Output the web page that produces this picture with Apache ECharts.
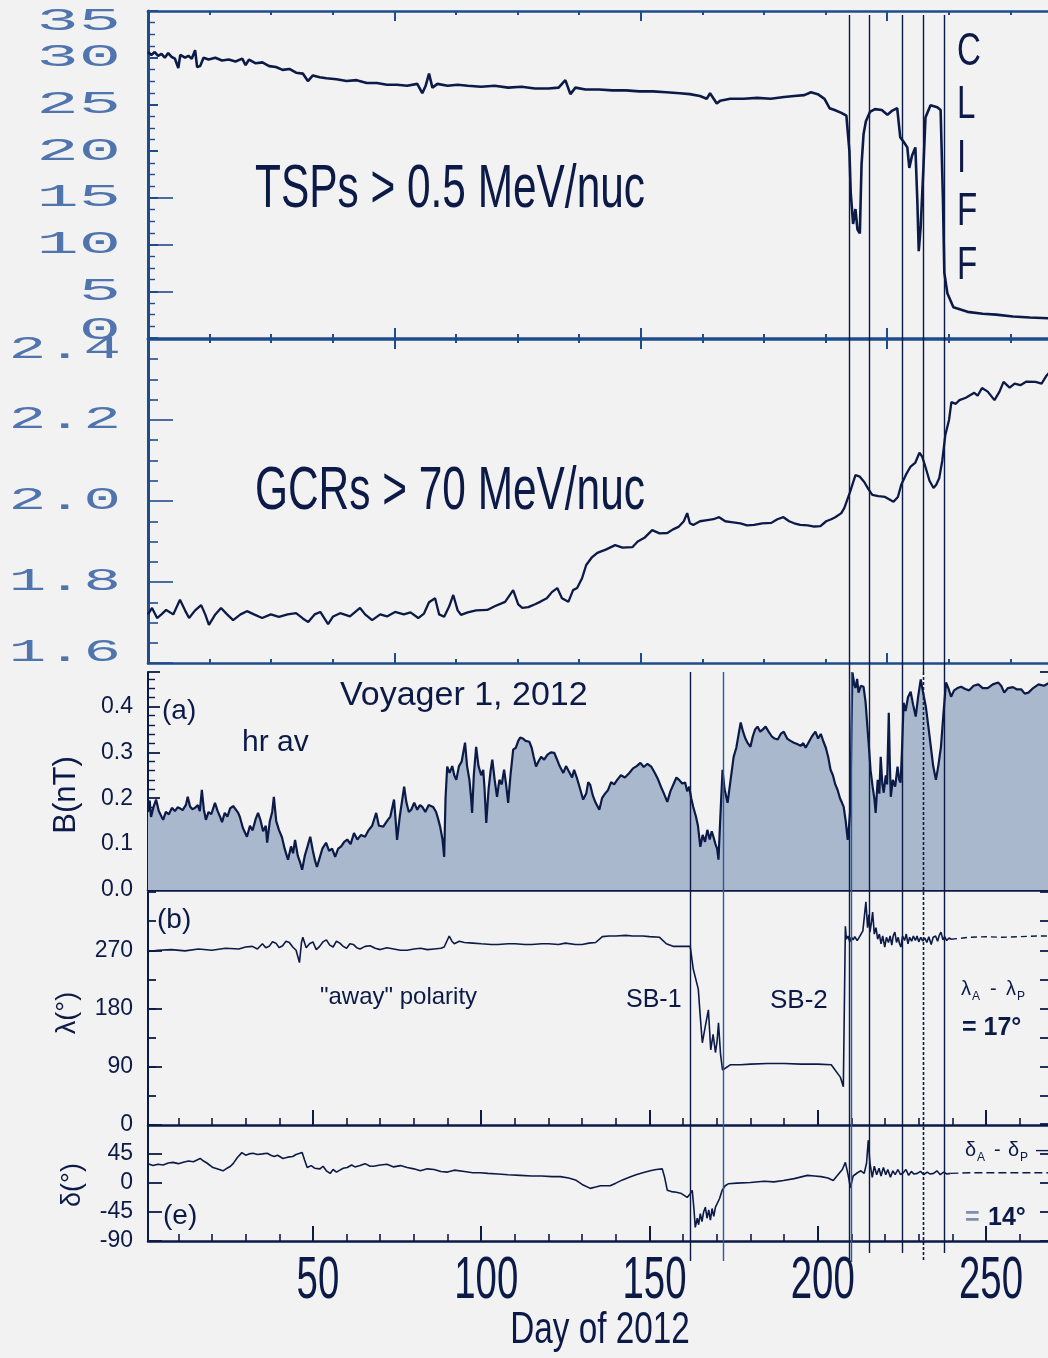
<!DOCTYPE html>
<html>
<head>
<meta charset="utf-8">
<title>Voyager 1, 2012</title>
<script src="https://cdn.jsdelivr.net/npm/echarts@6/dist/echarts.min.js"></script>
<style>
  html, body { margin: 0; padding: 0; background: #f2f2f2; }
  #chart { width: 1048px; height: 1358px; }
</style>
</head>
<body>
<div id="chart"></div>
<script>
// ---------------------------------------------------------------
// Data: [day of 2012, value]
// ---------------------------------------------------------------
const tspData = [
  [1,30.6],[2,30.3],[3,30.6],[4,30.2],[5,30.4],[6,30.0],[7,30.5],[8,30.1],[9,29.9],[10,28.9],
  [10.6,30.3],[12,30.0],[13,30.2],[14,29.9],[15,30.8],[15.6,29.0],[16.5,29.1],[17.5,30.0],[19,29.8],
  [21,30.0],[23,29.7],[25,29.8],[27,29.6],[29,29.9],[30,29.2],[31,29.8],[33,29.4],[35,29.5],[37,29.1],
  [39,29.0],[41,28.7],[43,28.8],[45,28.4],[47,28.3],[48.5,27.5],[50,28.1],[52,27.9],[54,27.8],[57,27.7],
  [60,27.5],[63,27.6],[66,27.3],[69,27.3],[72,27.1],[75,27.1],[78,27.0],[81,27.2],[82.5,26.2],[83.5,27.0],
  [84.5,28.3],[85.5,26.8],[87,27.2],[90,27.0],[93,27.1],[96,27.0],[100,26.9],[104,27.0],[108,26.8],
  [112,26.9],[116,26.7],[120,26.7],[123,26.8],[125,27.6],[126.5,26.1],[128,26.8],[131,26.6],[135,26.6],
  [139,26.5],[143,26.5],[147,26.4],[151,26.4],[155,26.3],[159,26.2],[162,26.1],[165,25.9],[167,25.6],
  [168,26.2],[170,25.1],[171,25.4],[174,25.6],[178,25.6],[182,25.7],[186,25.6],[190,25.8],[193,25.9],
  [196,26.0],[198,26.3],[200,26.1],[202,25.6],[203.5,24.6],[205,24.4],[207,24.1],[208.5,23.8],
  [209.4,20.0],[209.8,15.5],[210.5,12.2],[211.2,13.8],[211.8,11.6],[212.5,11.2],[213,18.5],[213.6,21.8],
  [214.3,23.2],[215.5,24.2],[217,24.5],[219,24.4],[220.7,23.9],[222,24.3],[223.6,24.6],[224.5,21.5],
  [225.5,21.0],[226.6,20.4],[227.2,18.2],[228,19.5],[229,20.4],[229.6,14.5],[230,9.3],[230.6,12.0],
  [231.4,18.3],[232,23.6],[233.5,24.9],[235.5,24.7],[236.5,24.4],[237.2,14.7],[237.6,7.0],[238.5,4.8],
  [240.3,3.3],[244.5,2.8],[249,2.6],[253,2.5],[258,2.3],[263,2.2],[269,2.1]
];

const gcrData = [
  [1,1.72],[2.2,1.736],[3.7,1.711],[5,1.72],[6.4,1.731],[8.5,1.72],[10.5,1.756],[12,1.73],[13.2,1.711],
  [15,1.73],[16.8,1.743],[18,1.72],[19.1,1.694],[21,1.72],[22.7,1.736],[24.5,1.72],[26.3,1.706],
  [28.5,1.72],[30.4,1.728],[32.5,1.72],[34.9,1.711],[37.5,1.72],[39.9,1.714],[42.5,1.72],[45,1.723],
  [47,1.71],[48.6,1.701],[50.5,1.72],[52.2,1.726],[54.5,1.696],[56,1.715],[58.1,1.723],[61,1.715],
  [64,1.736],[65.5,1.72],[67.6,1.706],[70,1.72],[72,1.715],[74.4,1.726],[77,1.72],[79,1.725],[81.3,1.711],
  [83,1.722],[84.5,1.75],[86.3,1.76],[87.5,1.72],[89,1.714],[90.5,1.74],[91.7,1.768],[93,1.73],[94,1.719],
  [96,1.725],[98.5,1.73],[101.8,1.731],[104,1.74],[107.1,1.751],[109.5,1.78],[111,1.745],[112.2,1.736],
  [114,1.738],[116,1.745],[117.5,1.751],[119.5,1.76],[121,1.775],[122.6,1.785],[124,1.76],[125.9,1.751],
  [127.3,1.78],[128.5,1.785],[130,1.81],[131.2,1.842],[132.8,1.86],[134.5,1.872],[137,1.88],[139.8,1.891],
  [142,1.885],[144.9,1.886],[146.5,1.9],[148.5,1.909],[150.8,1.928],[153,1.92],[155.3,1.921],[157,1.93],
  [158.6,1.936],[160.2,1.95],[161.2,1.97],[162,1.945],[163,1.941],[165,1.95],[167.2,1.953],[169,1.955],
  [170.7,1.96],[172.5,1.95],[174.3,1.948],[177,1.945],[179,1.94],[181.1,1.941],[183.5,1.945],[186.2,1.946],
  [188,1.955],[189.8,1.96],[191.5,1.95],[193,1.945],[194.8,1.941],[197,1.94],[199,1.937],[200.8,1.938],
  [202.5,1.95],[204,1.955],[205.2,1.96],[207,1.97],[207.9,1.983],[209.5,2.02],[211.2,2.064],[212.5,2.06],
  [213.8,2.047],[215,2.03],[216.2,2.015],[218,2.012],[220,2.01],[222.5,1.998],[223.8,2.01],[224.8,2.04],
  [226.2,2.065],[227.5,2.084],[229,2.095],[230.2,2.119],[231,2.11],[232,2.084],[233.2,2.05],[234.4,2.032],
  [235.2,2.04],[236.1,2.057],[237,2.1],[237.9,2.163],[239,2.2],[239.7,2.244],[241,2.24],[242.1,2.249],
  [244,2.255],[246.5,2.267],[247.5,2.26],[248.8,2.279],[250.5,2.27],[252.5,2.249],[254,2.27],[255.2,2.294],
  [257,2.28],[258.5,2.29],[260.2,2.286],[262,2.295],[264.7,2.294],[266.5,2.29],[268,2.31],[269,2.319]
];

const bFieldData = [
  [1,0.17],[1.5,0.195],[1.9,0.159],[2.6,0.18],[3.4,0.197],[4.2,0.172],[5,0.16],[5.5,0.153],[6.3,0.17],
  [7.2,0.165],[8.1,0.179],[9,0.172],[9.8,0.18],[10.5,0.178],[11.3,0.174],[12.3,0.186],[12.8,0.203],
  [13.5,0.182],[14.2,0.176],[15,0.179],[15.8,0.185],[16.4,0.172],[17,0.218],[17.6,0.175],[18.2,0.153],
  [19,0.17],[19.8,0.165],[20.9,0.19],[21.7,0.172],[22.4,0.16],[23,0.148],[23.8,0.168],[24.6,0.16],
  [25.4,0.178],[26.3,0.183],[27.1,0.175],[27.8,0.168],[28.3,0.159],[29.2,0.135],[30.4,0.116],[31.3,0.14],
  [32.1,0.13],[33,0.155],[33.7,0.168],[34.5,0.15],[35.2,0.128],[36,0.14],[36.4,0.103],[37.2,0.15],
  [37.9,0.17],[38.4,0.203],[39.1,0.15],[39.9,0.131],[40.8,0.115],[41.6,0.09],[42.6,0.066],[43.5,0.095],
  [44.1,0.08],[44.7,0.109],[45.5,0.075],[46.2,0.06],[46.8,0.044],[47.6,0.075],[48.4,0.095],[49.2,0.116],
  [50,0.085],[50.6,0.065],[51.2,0.05],[52,0.07],[52.8,0.09],[53.9,0.103],[54.8,0.085],[55.7,0.09],
  [56.6,0.072],[57.5,0.09],[58.4,0.095],[59.3,0.105],[60.2,0.11],[61.2,0.1],[62.2,0.124],[63.2,0.11],
  [64.3,0.12],[65.5,0.116],[66.5,0.13],[67.6,0.14],[68.8,0.168],[69.6,0.14],[70.9,0.138],[72,0.15],
  [73,0.16],[74.1,0.197],[74.6,0.15],[75,0.109],[75.8,0.16],[76.4,0.19],[77.1,0.225],[77.8,0.19],
  [78.5,0.17],[79.2,0.175],[80.1,0.19],[81,0.175],[81.8,0.185],[82.5,0.181],[83.4,0.17],[84.4,0.185],
  [85.7,0.181],[86.6,0.17],[87.2,0.155],[87.8,0.138],[88.5,0.11],[89,0.072],[89.4,0.2],[89.9,0.269],
  [90.6,0.255],[91.4,0.27],[92,0.25],[92.6,0.24],[93.4,0.27],[94.2,0.28],[95.2,0.321],[95.8,0.27],
  [96.5,0.24],[97,0.2],[97.3,0.168],[97.8,0.25],[98.5,0.312],[99.2,0.27],[100,0.25],[100.6,0.262],
  [101,0.22],[101.5,0.146],[102.2,0.22],[102.8,0.26],[103.3,0.284],[104,0.24],[104.7,0.203],[105.4,0.24],
  [106.1,0.23],[106.8,0.262],[107.4,0.23],[108,0.19],[108.7,0.25],[109.5,0.306],[110.3,0.31],[111,0.325],
  [111.6,0.332],[112.4,0.33],[113.2,0.325],[114.3,0.323],[115,0.31],[115.6,0.29],[116.3,0.269],[117,0.28],
  [117.8,0.29],[118.7,0.284],[119.7,0.295],[120.7,0.3],[121.7,0.299],[122.5,0.285],[123.3,0.27],
  [124.4,0.255],[125.2,0.27],[126.3,0.255],[127,0.245],[127.6,0.262],[128.4,0.245],[129.2,0.225],
  [130.3,0.197],[131.2,0.21],[131.8,0.235],[132.4,0.229],[133.2,0.205],[134,0.19],[135.1,0.175],
  [135.9,0.2],[136.8,0.21],[137.7,0.218],[138.6,0.235],[139.5,0.23],[140.4,0.24],[141.5,0.25],
  [142.7,0.245],[144,0.255],[145.1,0.265],[146.2,0.27],[147.3,0.277],[148.3,0.268],[149.4,0.275],
  [150.5,0.269],[151.6,0.255],[152.6,0.24],[153.4,0.225],[154.3,0.21],[155.3,0.192],[156.2,0.215],
  [157.1,0.23],[158,0.245],[158.8,0.24],[159.7,0.232],[160.6,0.234],[161.2,0.215],[161.8,0.225],
  [162.4,0.2],[163,0.181],[163.8,0.16],[164.4,0.14],[165.1,0.094],[165.8,0.12],[166.5,0.105],
  [167.2,0.131],[167.9,0.11],[168.5,0.128],[169,0.116],[169.6,0.1],[170.1,0.09],[170.5,0.066],
  [171,0.15],[171.7,0.262],[172.3,0.22],[173.2,0.19],[174.1,0.24],[175,0.29],[175.8,0.31],[176.5,0.34],
  [177.1,0.365],[177.8,0.345],[178.5,0.33],[179.2,0.32],[180,0.312],[180.7,0.335],[181.4,0.35],
  [182.1,0.356],[182.9,0.345],[183.7,0.35],[184.5,0.356],[185.4,0.345],[186.3,0.335],[187.2,0.33],
  [188.1,0.328],[189,0.34],[189.9,0.345],[190.9,0.33],[191.9,0.325],[192.9,0.321],[193.9,0.318],
  [194.9,0.314],[195.7,0.32],[196.4,0.31],[197.3,0.322],[198.3,0.335],[199.3,0.345],[200.1,0.33],
  [200.9,0.34],[201.7,0.323],[202.4,0.31],[203.1,0.29],[203.8,0.262],[204.5,0.25],[205.2,0.23],
  [205.9,0.218],[206.6,0.2],[207.2,0.19],[207.7,0.181],[208.3,0.15],[208.9,0.109],[209.3,0.14],
  [209.7,0.181],[210,0.35],[210.3,0.474],[210.8,0.45],[211.2,0.44],[211.7,0.46],[212.1,0.43],
  [212.8,0.445],[213.6,0.443],[214.2,0.41],[214.6,0.37],[215.1,0.321],[215.7,0.26],[216.3,0.225],
  [216.8,0.2],[217.2,0.168],[217.8,0.24],[218.3,0.21],[218.7,0.29],[219.2,0.23],[219.6,0.212],
  [220.2,0.25],[220.6,0.23],[221.1,0.386],[221.4,0.28],[221.7,0.203],[222.3,0.24],[223,0.225],
  [223.7,0.269],[224.2,0.24],[224.6,0.234],[225,0.3],[225.5,0.408],[226.1,0.39],[226.8,0.42],
  [227.6,0.432],[228.3,0.405],[229.1,0.378],[229.8,0.42],[230.6,0.459],[231.3,0.43],[232.1,0.4],
  [232.8,0.36],[233.6,0.312],[234.3,0.27],[235.1,0.24],[235.8,0.27],[236.6,0.312],[237.3,0.38],
  [238.1,0.452],[238.8,0.44],[239.6,0.421],[240.5,0.435],[241.5,0.44],[242.6,0.443],[243.8,0.438],
  [245,0.435],[246.3,0.445],[247.7,0.448],[249,0.44],[250.5,0.44],[252,0.448],[253.6,0.452],
  [254.5,0.445],[255.4,0.43],[256.5,0.44],[258,0.442],[259.2,0.437],[260.5,0.437],[261.5,0.428],
  [262.6,0.43],[264,0.44],[265.6,0.448],[267.2,0.445],[269,0.452]
];

const lambdaData = [
  [1,268],[4,270],[8,271],[12,269],[16,272],[20,270],[24,273],[28,272],[30,275],[32,276],[33.5,272],
  [35,280],[36,274],[37,276],[38,283],[39,281],[40,274],[41,277],[42,284],[43,282],[44,275],[45,270],
  [46,251],[46.6,282],[47,290],[48,274],[49,280],[50,283],[51,271],[52,276],[53,283],[54,286],[55,278],
  [56,275],[57,284],[58,281],[59,276],[60,273],[61,280],[62,279],[63,274],[64,272],[65.5,276],[67,277],
  [68.5,273],[70,271],[72,274],[74,272],[76,270],[78,270],[80,272],[82,273],[84,271],[86,272],[88,273],
  [89,275],[90.5,292],[91.3,284],[92,280],[93.5,284],[95,282],[97.5,281],[100,280],[103,279],[105,279],
  [108,280],[110,280],[113,279],[115,279],[118,280],[120,280],[123,279],[125,281],[128,279],[130,279],
  [132,281],[134,282],[136,291],[138,292],[140,292],[143,293],[145,292],[148,292],[150,291],[153,290],
  [155,280],[157,276],[160,276],[162.1,276],[163,241],[164.5,210],[165.2,160],[165.7,127],[166.5,150],
  [167.5,178],[168.2,116],[168.9,140],[169.6,112],[170.1,130],[170.5,158],[171.1,110],[171.7,85],
  [174,93],[177,93],[180,94],[185,95],[190,95],[195,94],[200,94],[204,93],[206.7,74],[207.6,59],
  [208.2,307],[208.5,287],[209,292],[209.5,283],[210,290],[210.5,286],[211,291],[211.7,285],[212.3,290],
  [212.8,292],[213.4,300],[214,330],[214.3,345],[214.8,305],[215.2,325],[215.5,298],[216,315],
  [216.3,329],[216.8,295],[217.3,305],[217.8,287],[218.3,295],[218.8,280],[219.3,292],[219.9,275],
  [220.4,290],[221,282],[221.5,292],[222,278],[222.4,292],[222.9,298],[223.4,282],[223.9,290],
  [224.3,280],[224.7,275],[225.2,292],[225.8,285],[226.3,295],[226.8,280],[227.3,290],[227.9,284],
  [228.4,292],[229,285],[229.5,292],[230,283],[230.6,290],[231.2,284],[231.8,289],[232.4,282],[233,291],
  [233.7,279],[234.3,290],[235,292],[235.6,284],[236.1,293],[236.6,298],[237.2,286],[237.7,291],
  [238.3,285],[239,289],[239.6,287]
];
const lambdaTail = [[239.6,287],[245,290],[250,291],[255,290],[260,291],[265,292],[269,292]];

const deltaData = [
  [1,29],[2.5,26],[4,28],[5.5,27],[7,30],[8.4,31],[10,29],[11.5,31],[13,33],[14.5,32],[16.5,37],
  [17.5,33],[18.5,30],[20.3,23],[21.5,21],[23.3,18],[24.5,22],[25.5,25],[26.3,29],[27.5,38],[28.9,46],
  [30,42],[31,44],[32.2,45],[33.5,43],[35,44],[36.4,45],[37.5,42],[38.5,40],[39.5,42],[41.1,37],
  [42.5,39],[44,40],[45,43],[46.8,46],[47.5,35],[48.3,23],[49.5,26],[50.5,22],[52.1,21],[53,25],[54,18],
  [55.1,14],[56,20],[57,16],[58,19],[59,22],[60.2,23],[61.5,27],[62.5,24],[64,26],[65.5,29],[67,25],
  [68,25],[70,27],[72,28],[74,24],[76,26],[78,23],[80,21],[81.9,18],[84,21],[86,20],[88,17],[90,16],
  [92,19],[95,17],[97.5,15],[99.7,15],[102,14],[105,13],[108,12],[111.6,11],[115,10],[118,10],[121,9],
  [123.5,9],[126,7],[128,4],[130,-3],[132.4,-9],[134,-7],[135.5,-5],[138.3,-5],[140,-1],[142,4],[144,8],
  [146,12],[148,15],[150.2,18],[152,20],[153.8,21],[154.5,8],[155.3,-12],[156.5,-14],[158,-15],
  [159.5,-17],[161.2,-23],[162,-18],[162.7,-12],[163.2,-40],[163.6,-69],[164.2,-55],[164.6,-65],
  [165.1,-48],[165.6,-60],[166.1,-45],[166.6,-38],[167.1,-55],[167.6,-42],[168.1,-58],[168.6,-40],
  [169.1,-52],[169.6,-38],[170.1,-38],[170.8,-25],[171.6,-12],[172.5,-5],[173.4,-2],[176,-1],[180,0],
  [184,2],[187,1],[189.8,3],[193,6],[196.9,11],[199,10],[201,9],[203,7],[204.6,3],[206,12],[207.3,20],
  [208.2,31],[209,12],[209.7,-8],[210.5,10],[211.8,15],[212.8,18],[213.8,14],[214.5,30],[215,65],
  [215.5,30],[216.2,8],[216.8,25],[217.5,12],[218.2,22],[218.8,10],[219.5,23],[220.2,12],[220.8,20],
  [221.6,8],[222.3,18],[223,12],[223.8,20],[224.6,12],[225.4,15],[226.2,20],[227,11],[227.8,17],
  [228.6,13],[229.6,14],[230.5,17],[231.5,12],[232.5,16],[233.4,13],[234.4,14],[235.4,18],[236.4,12],
  [237.4,16],[238.4,13],[239.4,14]
];
const deltaTail = [[239.4,14],[245,15],[250,15],[255,15],[260,15],[265,15],[269,15]];

// Boundary crossings marked by vertical lines (day of 2012)
const boundaryDays = [162.1, 171.9, 209.4, 210.0, 215.3, 225.1, 231.4, 237.6];

// Tick labels
const dayTicks = [50, 100, 150, 200, 250];
const tspTicks = [0, 5, 10, 15, 20, 25, 30, 35];
const gcrTicks = [1.6, 1.8, 2.0, 2.2, 2.4];

// ---------------------------------------------------------------
// Layout and styling
// ---------------------------------------------------------------
const DAY_MIN = 1, DAY_MAX = 269;
const YEAR_SPAN = (DAY_MAX - DAY_MIN) / 366;
const NAVY = '#0c1a47';
const BLUE = '#1f4c8c';
const BLUE_LINE = '#2b5a9e';
const TICK_BLUE = '#5074ad';
const FILL = '#a9b8cc';
const SANS = '"Liberation Sans", Arial, Helvetica, sans-serif';
const tenDayTicks = [];
for (let d = 10; d < DAY_MAX; d += 10) tenDayTicks.push(d);

const gridBoxes = [
  { top: 11, height: 327 },   // TSPs
  { top: 339, height: 324 },  // GCRs
  { top: 672, height: 218 },  // B
  { top: 892, height: 233 },  // lambda
  { top: 1124, height: 117 }  // delta
];
const grids = gridBoxes.map(g => ({
  left: 148, width: 902, top: g.top, height: g.height,
  containLabel: false, outerBoundsMode: 'none', show: false
}));

const xAxes = [], yAxes = [];
const dayAxis = [], yMain = [];
const addX = c => { xAxes.push(Object.assign({ type: 'value', splitLine: { show: false }, axisLabel: { show: false } }, c)); return xAxes.length - 1; };
const addY = c => { yAxes.push(Object.assign({ type: 'value', splitLine: { show: false } }, c)); return yAxes.length - 1; };

gridBoxes.forEach((g, i) => {
  const lower = i >= 2;
  dayAxis[i] = addX({
    gridIndex: i, min: DAY_MIN, max: DAY_MAX, position: 'bottom',
    axisLine: { show: lower, onZero: false, lineStyle: { color: NAVY, width: 2.5 } },
    axisTick: { show: lower, inside: true, length: 7, customValues: tenDayTicks, lineStyle: { color: NAVY, width: 1.6 } }
  });
  if (lower) {
    addX({
      gridIndex: i, min: DAY_MIN, max: DAY_MAX, position: 'bottom',
      axisLine: { show: false, onZero: false },
      axisTick: { show: true, inside: true, length: 15, customValues: dayTicks, lineStyle: { color: NAVY, width: 2 } }
    });
  } else {
    ['bottom', 'top'].forEach(pos => {
      addX({
        gridIndex: i, min: 0, max: YEAR_SPAN, interval: 0.05, position: pos,
        axisLine: { show: true, onZero: false, lineStyle: { color: BLUE, width: 2.6 } },
        axisTick: { show: true, inside: true, length: 4, lineStyle: { color: BLUE, width: 2 } }
      });
      addX({
        gridIndex: i, min: 0, max: YEAR_SPAN, interval: 0.2, position: pos,
        axisLine: { show: false, onZero: false },
        axisTick: { show: true, inside: true, length: 10, lineStyle: { color: BLUE, width: 2 } }
      });
    });
  }
});

const lowerLabel = { color: NAVY, fontFamily: SANS, fontSize: 23, margin: 15 };
const navyTick = (len) => ({ show: true, inside: true, length: len, lineStyle: { color: NAVY, width: 1.8 } });

// TSPs panel
yMain[0] = addY({
  gridIndex: 0, min: 0, max: 35, interval: 5, position: 'left',
  axisLine: { show: true, onZero: false, lineStyle: { color: BLUE, width: 3 } },
  axisTick: { show: true, inside: true, length: 10, lineStyle: { color: BLUE, width: 2 } },
  minorTick: { show: true, splitNumber: 4, length: 7, lineStyle: { color: BLUE, width: 1.4 } },
  axisLabel: { show: false }
});
addY({
  gridIndex: 0, min: 0, max: 35, position: 'left',
  axisLine: { show: false, onZero: false },
  axisTick: { show: true, inside: true, length: 25, customValues: [5, 10, 15], lineStyle: { color: BLUE, width: 1.6 } },
  axisLabel: { show: false }
});
// GCRs panel
yMain[1] = addY({
  gridIndex: 1, min: 1.6, max: 2.4, interval: 0.2, position: 'left',
  axisLine: { show: true, onZero: false, lineStyle: { color: BLUE, width: 3 } },
  axisTick: { show: true, inside: true, length: 25, lineStyle: { color: BLUE, width: 1.6 } },
  minorTick: { show: true, splitNumber: 4, length: 10, lineStyle: { color: BLUE, width: 1.6 } },
  axisLabel: { show: false }
});
// B panel
yMain[2] = addY({
  gridIndex: 2, min: 0, max: 0.475, interval: 0.1, position: 'left',
  axisLine: { show: true, onZero: false, lineStyle: { color: NAVY, width: 2 } },
  axisTick: navyTick(12),
  minorTick: { show: true, splitNumber: 5, length: 7, lineStyle: { color: NAVY, width: 1.4 } },
  axisLabel: Object.assign({ showMaxLabel: false, formatter: v => v.toFixed(1) }, lowerLabel)
});
addY({
  gridIndex: 2, min: 0, max: 0.475, interval: 0.1, position: 'right',
  axisLine: { show: true, onZero: false, lineStyle: { color: NAVY, width: 2 } },
  axisTick: navyTick(10), axisLabel: { show: false }
});
// lambda panel
yMain[3] = addY({
  gridIndex: 3, min: 0, max: 360, interval: 45, position: 'left',
  axisLine: { show: true, onZero: false, lineStyle: { color: NAVY, width: 2 } },
  axisTick: navyTick(8), axisLabel: { show: false }
});
addY({
  gridIndex: 3, min: 0, max: 360, interval: 90, position: 'left',
  axisLine: { show: false, onZero: false },
  axisTick: navyTick(14),
  axisLabel: Object.assign({ showMaxLabel: false }, lowerLabel)
});
addY({
  gridIndex: 3, min: 0, max: 360, interval: 45, position: 'right',
  axisLine: { show: true, onZero: false, lineStyle: { color: NAVY, width: 2 } },
  axisTick: navyTick(10), axisLabel: { show: false }
});
// delta panel
yMain[4] = addY({
  gridIndex: 4, min: -90, max: 90, interval: 45, position: 'left',
  axisLine: { show: true, onZero: false, lineStyle: { color: NAVY, width: 2 } },
  axisTick: navyTick(14),
  axisLabel: Object.assign({ showMaxLabel: false }, lowerLabel)
});
addY({
  gridIndex: 4, min: -90, max: 90, interval: 45, position: 'right',
  axisLine: { show: true, onZero: false, lineStyle: { color: NAVY, width: 2 } },
  axisTick: navyTick(10), axisLabel: { show: false }
});

const lineSeries = (panel, data, extra) => Object.assign({
  type: 'line', xAxisIndex: dayAxis[panel], yAxisIndex: yMain[panel], data: data,
  showSymbol: false, symbol: 'none', animation: false, z: 3,
  lineStyle: { color: NAVY, width: 1.6 }
}, extra || {});

const series = [
  lineSeries(0, tspData, { lineStyle: { color: NAVY, width: 2.6 } }),
  lineSeries(1, gcrData, { lineStyle: { color: NAVY, width: 2.3 } }),
  lineSeries(2, bFieldData, { lineStyle: { color: NAVY, width: 2.2 }, areaStyle: { color: FILL, opacity: 1, origin: 'start' } }),
  lineSeries(3, lambdaData),
  lineSeries(3, lambdaTail, { lineStyle: { color: NAVY, width: 1.4, type: [6, 4] } }),
  lineSeries(4, deltaData),
  lineSeries(4, deltaTail, { lineStyle: { color: NAVY, width: 1.4, type: [8, 4] } })
];

const chart = echarts.init(document.getElementById('chart'), null, { renderer: 'canvas' });
chart.setOption({
  backgroundColor: '#f2f2f2',
  animation: false,
  grid: grids,
  xAxis: xAxes,
  yAxis: yAxes,
  series: series
});

// ---------------------------------------------------------------
// Overlay: boundary lines, panel annotations, condensed tick labels
// ---------------------------------------------------------------
const xPx = d => chart.convertToPixel({ xAxisIndex: dayAxis[4] }, d);
const yPx = (panel, v) => chart.convertToPixel({ yAxisIndex: yMain[panel] }, v);

const topAll = gridBoxes[0].top + 4;
const topLower = gridBoxes[2].top;
const bottomEdge = gridBoxes[4].top + gridBoxes[4].height;
// reach: which panels the line crosses; ext: how far it runs under the last axis
const boundaryStyle = [
  { reach: 'lower', color: NAVY, ext: 20 },
  { reach: 'lower', color: BLUE_LINE, ext: 20 },
  { reach: 'all', color: NAVY, ext: 21 },
  { reach: 'lower', color: BLUE_LINE, ext: 21 },
  { reach: 'all', color: NAVY, ext: 12 },
  { reach: 'all', color: NAVY, ext: 12 },
  { reach: 'all', color: NAVY, ext: 19, dashedLower: true },
  { reach: 'all', color: NAVY, ext: 12 }
];

const graphics = [];
boundaryDays.forEach((d, i) => {
  const st = boundaryStyle[i];
  const x = Math.round(xPx(d)) + 0.5;
  const y0 = st.reach === 'all' ? topAll : topLower;
  const y1 = bottomEdge + st.ext;
  if (st.dashedLower) {
    graphics.push({ type: 'line', z: 20, silent: true, shape: { x1: x, y1: y0, x2: x, y2: topLower }, style: { stroke: st.color, lineWidth: 1.4 } });
    graphics.push({ type: 'line', z: 20, silent: true, shape: { x1: x, y1: topLower, x2: x, y2: y1 }, style: { stroke: st.color, lineWidth: 1.6, lineDash: [3, 2] } });
  } else {
    graphics.push({ type: 'line', z: 20, silent: true, shape: { x1: x, y1: y0, x2: x, y2: y1 }, style: { stroke: st.color, lineWidth: 1.4 } });
  }
});

function txt(text, x, y, size, opts) {
  opts = opts || {};
  const align = opts.align || 'left';
  return {
    type: 'text', z: 30, silent: true, x: x, y: y,
    scaleX: opts.scaleX || 1, rotation: opts.rotation || 0,
    style: {
      text: text,
      font: (opts.weight ? opts.weight + ' ' : '') + size + 'px ' + (opts.family || SANS),
      fill: opts.color || NAVY,
      align: align, textAlign: align,
      verticalAlign: 'middle', textVerticalAlign: 'middle',
      shadowBlur: opts.blur || 0, shadowColor: opts.blur ? (opts.color || NAVY) : 'transparent'
    }
  };
}

// upper-panel tick labels (wide, light type)
const MONO = '"Liberation Mono", "DejaVu Sans Mono", monospace';
tspTicks.forEach(v => {
  let y = yPx(0, v);
  if (v === 35) y += 11; if (v === 0) y -= 7;
  graphics.push(txt(String(v), 121, y, 32, { align: 'right', scaleX: 2.2, family: MONO, color: TICK_BLUE, blur: 0.8 }));
});
gcrTicks.forEach(v => {
  let y = yPx(1, v);
  if (v === 2.4) y += 11; if (v === 1.6) y -= 10;
  graphics.push(txt(v.toFixed(1), 121, y, 32, { align: 'right', scaleX: 1.95, family: MONO, color: TICK_BLUE, blur: 0.8 }));
});

// day-of-year tick labels and axis title
dayTicks.forEach(d => {
  graphics.push(txt(String(d), xPx(d) + 5, 1281, 60, { align: 'center', scaleX: 0.64 }));
});
graphics.push(txt('Day of 2012', 600, 1331, 45, { align: 'center', scaleX: 0.74 }));

// panel titles
graphics.push(txt('TSPs > 0.5 MeV/nuc', 255, 190, 61, { scaleX: 0.695 }));
graphics.push(txt('GCRs > 70 MeV/nuc', 255, 492, 61, { scaleX: 0.695 }));
['C', 'L', 'I', 'F', 'F'].forEach((ch, k) => {
  graphics.push(txt(ch, 957, 52 + k * 53.5, 46, { scaleX: 0.72 }));
});

// lower-panel annotations
graphics.push(txt('Voyager 1, 2012', 340, 696, 34));
graphics.push(txt('(a)', 162, 711, 28));
graphics.push(txt('hr av', 242, 743, 30));
graphics.push(txt('(b)', 157, 920, 28));
graphics.push(txt('"away" polarity', 320, 997, 24));
graphics.push(txt('SB-1', 626, 1000, 25));
graphics.push(txt('SB-2', 770, 1001, 26));
graphics.push(txt('(e)', 163, 1216, 28));

// mean-direction differences
graphics.push(txt('λ', 961, 989, 20));
graphics.push(txt('A', 972, 997, 12));
graphics.push(txt('-', 990, 989, 20));
graphics.push(txt('λ', 1006, 989, 20));
graphics.push(txt('P', 1017, 997, 12));
graphics.push(txt('= 17°', 962, 1028, 25, { weight: 'bold' }));
graphics.push(txt('δ', 965, 1150, 20));
graphics.push(txt('A', 977, 1158, 12));
graphics.push(txt('-', 994, 1150, 20));
graphics.push(txt('δ', 1008, 1150, 20));
graphics.push(txt('P', 1020, 1158, 12));
graphics.push(txt('—', 1036, 1150, 20));
graphics.push(txt('=', 965, 1218, 25, { color: '#7d8fb3', weight: 'bold' }));
graphics.push(txt('14°', 988, 1218, 25, { weight: 'bold' }));

// axis titles (rotated)
graphics.push(txt('B(nT)', 66, 795, 31, { align: 'center', rotation: Math.PI / 2 }));
graphics.push(txt('λ(°)', 68, 1013, 27, { align: 'center', rotation: Math.PI / 2 }));
graphics.push(txt('δ(°)', 73, 1185, 27, { align: 'center', rotation: Math.PI / 2 }));

chart.setOption({ graphic: { elements: graphics } });
</script>
</body>
</html>
